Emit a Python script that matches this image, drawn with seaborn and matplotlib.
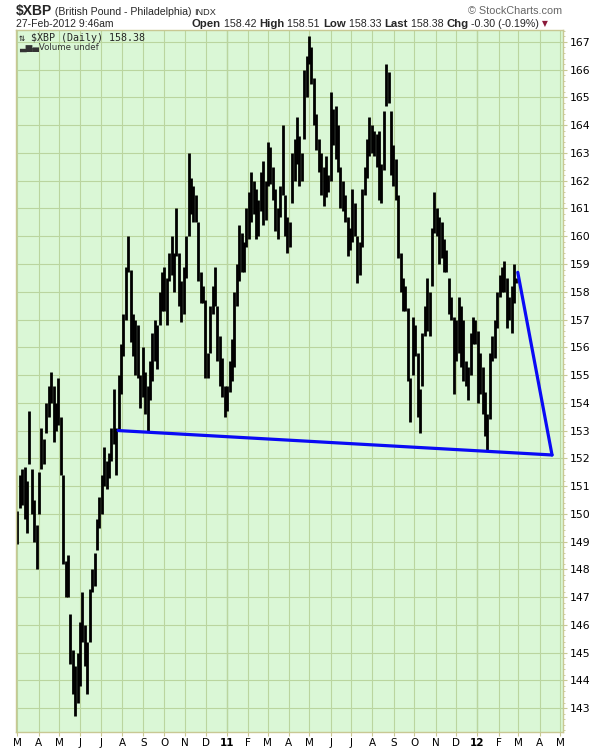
import numpy as np
import pandas as pd
import matplotlib
matplotlib.use("Agg")
import matplotlib.pyplot as plt
from matplotlib.ticker import MultipleLocator
import seaborn as sns

# ---------------- data ----------------
first_bar = "2010-03-01"
last_bar = "2012-02-27"

bar_highs = [
    150.1, 151.4, 151.6, 151.7, 151.2, 153.7, 151.6, 150.5, 149.6, 151.5,
    153.1, 152.7, 154.0, 154.6, 155.1, 154.6, 154.0, 154.9, 153.5, 151.4,
    148.3, 148.5, 146.4, 145.1, 144.5, 145.0, 146.1, 147.2, 146.0, 145.4,
    147.3, 148.0, 148.6, 149.8, 150.6, 151.4, 152.4, 151.9, 152.2, 153.1,
    154.5, 153.1, 155.0, 156.1, 157.2, 158.9, 160.0, 158.8, 157.2, 157.0,
    156.8, 155.0, 156.0, 155.1, 154.6, 155.5, 156.5, 157.0, 156.8, 158.0,
    158.7, 158.9, 158.5, 159.4, 160.0, 159.4, 161.0, 159.4, 158.4, 158.9,
    160.0, 163.0, 162.1, 161.8, 161.5, 160.5, 158.7, 158.2, 157.7, 155.8,
    157.5, 158.2, 158.9, 157.5, 156.4, 155.6, 154.6, 154.6, 155.5, 156.3,
    158.0, 159.0, 160.4, 160.1, 159.8, 161.0, 161.6, 162.3, 162.0, 161.7,
    161.3, 162.3, 162.7, 162.0, 163.4, 163.2, 162.5, 161.7, 161.0, 161.8,
    164.0, 161.5, 160.7, 160.5, 163.0, 163.5, 164.3, 163.6, 163.0, 166.0,
    166.5, 167.2, 166.8, 165.7, 164.4, 163.5, 163.0, 162.5, 162.9, 162.2,
    165.2, 164.6, 164.7, 164.0, 162.5, 162.0, 161.5, 160.7, 160.3, 161.7,
    161.2, 160.0, 159.8, 161.7, 162.5, 163.5, 164.3, 164.0, 163.8, 163.7,
    163.8, 162.6, 164.5, 166.2, 165.9, 164.5, 163.3, 162.8, 161.5, 159.4,
    158.5, 158.2, 157.4, 154.9, 157.1, 156.8, 155.8, 154.5, 156.5, 157.5,
    158.5, 158.0, 160.3, 161.6, 161.0, 160.7, 160.5, 159.9, 159.5, 158.5,
    157.8, 157.1, 157.0, 157.8, 157.5, 157.0, 155.5, 155.3, 156.5, 157.1,
    157.0, 156.6, 155.8, 155.3, 154.4, 153.6, 155.8, 156.4, 157.0, 158.0,
    158.6, 158.9, 159.1, 158.5, 157.8, 158.2, 159.0, 158.51,
]
bar_lows = [
    148.9, 150.2, 150.3, 149.8, 149.3, 151.8, 150.0, 149.0, 148.0, 150.0,
    151.6, 151.8, 152.9, 153.5, 154.0, 152.6, 153.0, 153.2, 151.4, 148.2,
    147.0, 147.0, 144.6, 143.5, 142.7, 143.2, 143.8, 145.4, 144.5, 143.5,
    145.4, 147.2, 147.4, 148.7, 149.5, 150.0, 151.0, 150.9, 151.3, 151.9,
    152.5, 151.4, 153.0, 154.3, 155.7, 157.0, 158.7, 156.2, 155.7, 155.0,
    154.9, 153.8, 154.2, 153.6, 153.0, 154.1, 154.8, 155.5, 155.2, 156.8,
    157.3, 157.3, 156.8, 158.4, 158.6, 158.0, 159.3, 157.5, 156.9, 157.2,
    158.5, 160.0, 160.8, 160.5, 160.5, 158.4, 157.6, 157.6, 154.9, 154.9,
    155.8, 157.2, 157.5, 155.5, 154.6, 154.2, 153.5, 153.7, 154.4, 154.8,
    155.3, 157.5, 158.4, 158.7, 158.7, 159.6, 159.9, 160.5, 160.8, 159.9,
    160.0, 160.9, 160.4, 160.6, 161.8, 161.9, 161.3, 160.2, 159.9, 160.7,
    161.5, 160.0, 159.4, 159.6, 161.2, 162.0, 162.6, 161.8, 162.0, 163.5,
    165.0, 166.2, 165.5, 164.0, 163.1, 162.3, 161.5, 161.1, 161.4, 161.6,
    162.0, 163.3, 162.8, 162.3, 161.0, 160.9, 160.5, 159.3, 159.5, 159.8,
    160.0, 158.3, 158.6, 159.6, 161.5, 162.1, 162.9, 163.0, 162.9, 162.5,
    161.3, 161.2, 162.4, 164.7, 164.8, 162.2, 161.8, 161.3, 159.2, 158.0,
    157.3, 157.3, 154.8, 153.3, 155.0, 155.7, 153.5, 152.9, 154.6, 156.4,
    156.6, 156.4, 158.2, 160.1, 160.0, 159.0, 159.2, 158.7, 158.7, 157.2,
    157.0, 154.3, 155.5, 155.8, 155.3, 154.8, 154.6, 154.1, 155.0, 156.1,
    156.1, 154.0, 154.3, 153.6, 152.8, 152.3, 153.4, 155.5, 155.6, 156.7,
    157.8, 158.0, 158.0, 156.7, 157.0, 156.5, 157.6, 158.33,
]

support_dates = ["2010-07-26", "2012-04-19"]
support_prices = [153.0, 152.12]
down_dates = ["2012-02-29", "2012-04-19"]
down_prices = [158.7, 152.12]

month_letters = ["J", "F", "M", "A", "M", "J", "J", "A", "S", "O", "N", "D"]
y_ticks = list(range(143, 168))

title_parts = [("$XBP", 10.0, "bold"), (" (British Pound - Philadelphia) ", 7.6, "normal"),
               ("INDX", 6.6, "normal")]
header_time = "27-Feb-2012 9:46am"
quote_parts = [("Open", True), (" 158.42 ", False), ("High", True), (" 158.51 ", False),
               ("Low", True), (" 158.33 ", False), ("Last", True), (" 158.38 ", False),
               ("Chg", True), (" -0.30 (-0.19%)", False)]

# ---------------- build frames ----------------
n = len(bar_highs)
dates = pd.date_range(first_bar, last_bar, periods=n)
bars = pd.DataFrame({
    "date": np.repeat(dates, 2),
    "price": np.ravel(np.column_stack([bar_lows, bar_highs])),
    "bar": np.repeat(np.arange(n), 2),
})
support = pd.DataFrame({"date": pd.to_datetime(support_dates), "price": support_prices})
down = pd.DataFrame({"date": pd.to_datetime(down_dates), "price": down_prices})

# ---------------- style ----------------
sns.set_theme(style="ticks")
plt.rcParams["font.family"] = ["DejaVu Sans"]

W, H = 600, 750
fig = plt.figure(figsize=(6, 7.5), dpi=100)
fig.patch.set_facecolor("white")
L, R, T, B = 16, 563, 30, 732
ax = fig.add_axes([L / W, 1 - B / H, (R - L) / W, (B - T) / H])
ax.set_facecolor("#DAF7D6")

spine_c = "#C8C893"
grid_c = "#BAD59F"

sns.lineplot(data=bars, x="date", y="price", units="bar", estimator=None,
             sort=False, color="black", lw=2.0, ax=ax, legend=False,
             solid_capstyle="butt")
sns.lineplot(data=support, x="date", y="price", color="#0a0af5", lw=2.3, ax=ax,
             legend=False)
sns.lineplot(data=down, x="date", y="price", color="#0a0af5", lw=2.3, ax=ax,
             legend=False)

ax.set_xlim(pd.Timestamp("2010-02-27"), pd.Timestamp("2012-05-05"))
ax.set_ylim(142.14, 167.43)

# x axis: month starts
month_starts = pd.date_range("2010-03-01", "2012-05-01", freq="MS")
labels = [("%02d" % (d.year % 100)) if d.month == 1 else month_letters[d.month - 1]
          for d in month_starts]
ax.set_xticks(month_starts)
ax.set_xticklabels(labels)
for lab, d in zip(ax.get_xticklabels(), month_starts):
    if d.month == 1:
        lab.set_fontweight("bold")
        lab.set_fontsize(8.5)

# y axis right
ax.yaxis.tick_right()
ax.set_yticks(y_ticks)
ax.yaxis.set_minor_locator(MultipleLocator(0.2))

ax.grid(True, which="major", color=grid_c, lw=0.8)
ax.set_axisbelow(True)
for d in month_starts:
    if d.month == 1:
        ax.axvline(d, color="#A9C088", lw=0.9, zorder=0.5)

for s in ax.spines.values():
    s.set_color(spine_c)
    s.set_linewidth(1.0)
    s.set_visible(True)

ax.tick_params(axis="x", which="major", length=3, width=0.8, color=spine_c,
               labelsize=7.5, pad=1.5, labelcolor="black")
ax.tick_params(axis="y", which="major", length=3, width=0.8, color=spine_c,
               labelsize=7.8, pad=2, labelcolor="black")
ax.tick_params(axis="y", which="minor", length=1.5, width=0.6, color=spine_c)
ax.set_xlabel("")
ax.set_ylabel("")

# ---------------- header ----------------
def px(x, y):
    return x / W, 1 - y / H

hfont = ["Liberation Sans", "DejaVu Sans"]
fig.canvas.draw()
renderer = fig.canvas.get_renderer()

xpos = 15.5
for txt, size, weight in title_parts:
    t = fig.text(*px(xpos, 15), txt, fontsize=size, fontweight=weight,
                 family=hfont, va="baseline")
    xpos += t.get_window_extent(renderer).width

fig.text(*px(16, 27), header_time, fontsize=7.5, family=hfont, va="baseline")
fig.text(*px(562, 14), "\u00a9 StockCharts.com", fontsize=7.8, family=hfont,
         color="#666666", ha="right", va="baseline")

xpos = 191.5
for txt, bold in quote_parts:
    t = fig.text(*px(xpos, 27), txt, fontsize=8.2 if bold else 7.7,
                 fontweight="bold" if bold else "normal", family=hfont,
                 va="baseline")
    xpos += t.get_window_extent(renderer).width
fig.text(*px(xpos + 3, 26), "\u25bc", fontsize=5.5, color="#8B1A3A",
         family=["DejaVu Sans"], va="baseline")

# legend inside axes
ax.text(3 / (R - L), 1 - 11 / (B - T), "\u21c5 $XBP (Daily) 158.38",
        transform=ax.transAxes, fontsize=7.2, family=["DejaVu Sans Mono"],
        va="baseline")
ax.text(3 / (R - L), 1 - 20 / (B - T), "\u2583\u2586\u2584Volume undef",
        transform=ax.transAxes, fontsize=6.2, family=["DejaVu Sans"],
        color="#333333", va="baseline")

fig.savefig("out.png", dpi=100)
